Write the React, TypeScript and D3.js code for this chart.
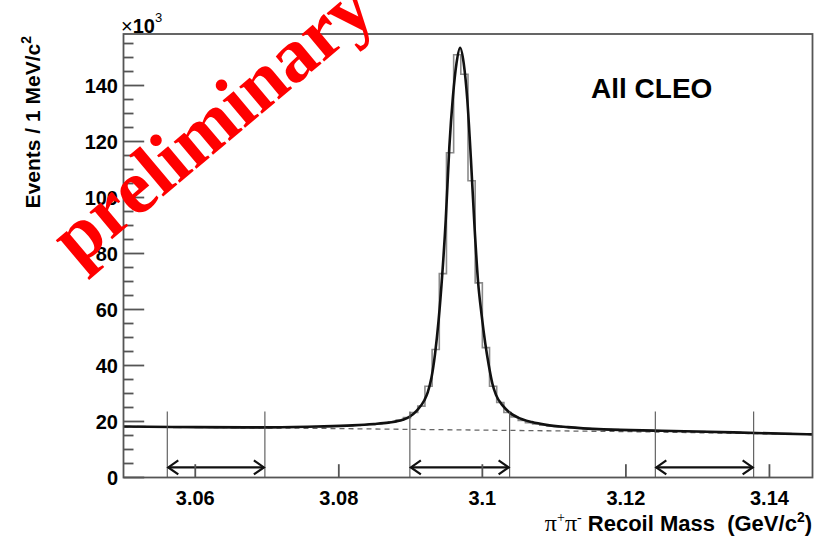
import React from "react";
import * as d3 from "d3";

const W = 815;
const H = 536;
const plotLeft = 123.5;
const plotRight = 812.5;
const plotTop = 34;
const plotBottom = 477.5;

const xDomain = [3.05, 3.146];
const yDomain = [0, 158.4];
const xTicks = [3.06, 3.08, 3.1, 3.12, 3.14];
const xTickLabels = ["3.06", "3.08", "3.1", "3.12", "3.14"];
const yTicks = [0, 20, 40, 60, 80, 100, 120, 140];
const yTickLabels = ["0", "20", "40", "60", "80", "100", "120", "140"];
const yMinorStep = 5;

const binStart = 3.05;
const binWidth = 0.001;
// events per bin, in thousands
const histCounts = [
  18.2, 18.1, 18.2, 18.0, 18.1, 18.0, 18.1, 17.9, 18.0, 18.0,
  17.9, 18.0, 17.9, 17.9, 18.0, 17.8, 17.9, 17.9, 17.8, 17.9,
  17.9, 17.9, 18.0, 17.9, 18.0, 18.0, 18.1, 18.1, 18.2, 18.3,
  18.4, 18.5, 18.6, 18.8, 18.9, 19.2, 19.5, 19.9, 20.5, 21.4,
  23.2, 25.5, 32.6, 45.7, 72.8, 116, 151, 144, 106, 69.5,
  46.4, 32.6, 26.8, 23.2, 21.6, 20.4, 19.6, 19.1, 18.7, 18.4,
  18.2, 18.0, 17.8, 17.6, 17.5, 17.4, 17.3, 17.2, 17.1, 17.0,
  16.9, 16.9, 16.8, 16.8, 16.7, 16.7, 16.6, 16.6, 16.5, 16.4,
  16.4, 16.3, 16.3, 16.2, 16.1, 16.1, 16.0, 16.0, 15.9, 15.8,
  15.8, 15.7, 15.7, 15.6, 15.5, 15.5,
];

const fitMass = [
  3.05, 3.06, 3.07, 3.0769, 3.0819, 3.0849, 3.0869, 3.0889, 3.0899, 3.0909,
  3.0919, 3.0924, 3.0929, 3.0934, 3.0939, 3.0944, 3.0949, 3.0954, 3.0959, 3.0964,
  3.0969, 3.0974, 3.0979, 3.0984, 3.0989, 3.0994, 3.0999, 3.1004, 3.1009, 3.1014,
  3.1019, 3.1029, 3.1039, 3.1049, 3.1069, 3.1089, 3.1119, 3.1169, 3.125, 3.135, 3.146,
];
const fitCounts = [
  18.2, 18.0, 17.9, 18.2, 18.6, 19.1, 19.6, 20.6, 21.8, 24.0,
  27.5, 30.5, 35.5, 44, 56, 72, 92, 118, 136, 148,
  153.5, 148, 135, 114, 90, 70, 58, 48, 40, 33.5,
  29.5, 25.5, 23.0, 21.5, 19.8, 18.8, 18.0, 17.2, 16.7, 16.1, 15.4,
];

const bkgMass = [3.05, 3.075, 3.097, 3.12, 3.146];
const bkgCounts = [18.1, 17.6, 17.0, 16.4, 15.35];

const regions = [
  [3.0561, 3.0697],
  [3.0899, 3.1038],
  [3.1241, 3.1378],
];
const regionLineTop = 23.6;
const arrowLevel = 3.6;

export default function App() {
  const x = d3.scaleLinear().domain(xDomain).range([plotLeft, plotRight]);
  const y = d3.scaleLinear().domain(yDomain).range([plotBottom, plotTop]);

  const histPts: [number, number][] = histCounts.map((c, i) => [binStart + i * binWidth, c]);
  histPts.push([binStart + histCounts.length * binWidth, histCounts[histCounts.length - 1]]);
  const histPath = d3
    .line<[number, number]>()
    .x((d) => x(d[0]))
    .y((d) => y(d[1]))
    .curve(d3.curveStepAfter)(histPts) as string;

  const fitPath = d3
    .line<number>()
    .x((d, i) => x(fitMass[i]))
    .y((d) => y(d))
    .curve(d3.curveMonotoneX)(fitCounts) as string;

  const bkgPath = d3
    .line<number>()
    .x((d, i) => x(bkgMass[i]))
    .y((d) => y(d))(bkgCounts) as string;

  const minorTicks = d3.range(0, yDomain[1], yMinorStep).filter((v) => v % 20 !== 0);

  const majorY = 20.7;
  const minorY = 10;
  const tickX = 13.3;
  const axisColor = "#555";
  const sans = "'Liberation Sans', Arial, Helvetica, sans-serif";
  const serif = "'Liberation Serif', 'Times New Roman', serif";

  const ay = y(arrowLevel);
  const headL = 11;
  const headH = 7;

  return (
    <svg width={W} height={H} style={{ position: "absolute", left: 0, top: 0, background: "#fff" }}>
      <rect x={0} y={0} width={W} height={H} fill="#fff" />
      {/* histogram */}
      <path d={histPath} fill="none" stroke="#8a8a8a" strokeWidth={1.6} />
      {/* background dashed */}
      <path d={bkgPath} fill="none" stroke="#666" strokeWidth={1.3} strokeDasharray="5,4" />
      {/* fit */}
      <path d={fitPath} fill="none" stroke="#111" strokeWidth={2.6} strokeLinejoin="round" />

      {/* region lines and arrows */}
      {regions.map((r, i) => (
        <g key={i}>
          <line x1={x(r[0])} x2={x(r[0])} y1={y(regionLineTop)} y2={plotBottom} stroke="#555" strokeWidth={1.1} />
          <line x1={x(r[1])} x2={x(r[1])} y1={y(regionLineTop)} y2={plotBottom} stroke="#555" strokeWidth={1.1} />
          <line x1={x(r[0]) + 1} x2={x(r[1]) - 1} y1={ay} y2={ay} stroke="#111" strokeWidth={2.2} />
          <path
            d={`M${x(r[0]) + headL},${ay - headH} L${x(r[0]) + 1},${ay} L${x(r[0]) + headL},${ay + headH}`}
            fill="none"
            stroke="#111"
            strokeWidth={2.2}
          />
          <path
            d={`M${x(r[1]) - headL},${ay - headH} L${x(r[1]) - 1},${ay} L${x(r[1]) - headL},${ay + headH}`}
            fill="none"
            stroke="#111"
            strokeWidth={2.2}
          />
        </g>
      ))}

      {/* frame */}
      <rect
        x={plotLeft}
        y={plotTop}
        width={plotRight - plotLeft}
        height={plotBottom - plotTop}
        fill="none"
        stroke={axisColor}
        strokeWidth={1.8}
      />

      {/* y ticks */}
      {yTicks.map((t) => (
        <line key={"ym" + t} x1={plotLeft} x2={plotLeft + majorY} y1={y(t)} y2={y(t)} stroke={axisColor} strokeWidth={1.8} />
      ))}
      {minorTicks.map((t) => (
        <line key={"yn" + t} x1={plotLeft} x2={plotLeft + minorY} y1={y(t)} y2={y(t)} stroke={axisColor} strokeWidth={1.8} />
      ))}
      {yTicks.map((t, i) => (
        <text key={"yl" + t} x={118} y={y(t) + 7.5} textAnchor="end" fontFamily={sans} fontWeight="bold" fontSize={20} fill="#000">
          {yTickLabels[i]}
        </text>
      ))}

      {/* x ticks */}
      {xTicks.map((t, i) => (
        <g key={"x" + t}>
          <line x1={x(t)} x2={x(t)} y1={plotBottom} y2={plotBottom - tickX} stroke={axisColor} strokeWidth={1.8} />
          <text x={x(t)} y={505} textAnchor="middle" fontFamily={sans} fontWeight="bold" fontSize={20} fill="#000">
            {xTickLabels[i]}
          </text>
        </g>
      ))}

      {/* x10^3 */}
      <text x={121} y={33} fontFamily={sans} fontSize={20} fill="#000">
        <tspan fontWeight="normal">×</tspan>
        <tspan fontWeight="bold">10</tspan>
        <tspan fontWeight="normal" fontSize={13} dy={-11}>3</tspan>
      </text>

      {/* y title */}
      <text
        transform="translate(40,36) rotate(-90)"
        textAnchor="end"
        fontFamily={sans}
        fontWeight="bold"
        fontSize={21}
        fill="#000"
      >
        Events / 1 MeV/c<tspan fontSize={14} dy={-9}>2</tspan>
      </text>

      {/* x title */}
      <text
        x={812}
        y={531}
        textAnchor="end"
        fontFamily={sans}
        fontWeight="bold"
        fontSize={22}
        fill="#000"
        style={{ whiteSpace: "pre" }}
      >
        <tspan fontFamily={serif} fontWeight="normal" fontSize={24}>π</tspan>
        <tspan fontFamily={serif} fontWeight="normal" fontSize={14} dy={-9}>+</tspan>
        <tspan fontFamily={serif} fontWeight="normal" fontSize={24} dy={9}>π</tspan>
        <tspan fontFamily={serif} fontWeight="normal" fontSize={14} dy={-9}>-</tspan>
        <tspan dy={9}>{" Recoil Mass  (GeV/c"}</tspan>
        <tspan fontSize={14} dy={-9}>2</tspan>
        <tspan dy={9}>)</tspan>
      </text>

      {/* label */}
      <text x={591} y={98} fontFamily={sans} fontWeight="bold" fontSize={28} fill="#000">
        All CLEO
      </text>

      {/* preliminary */}
      <text
        transform="translate(228,142) rotate(-40)"
        textAnchor="middle"
        fontFamily={serif}
        fontWeight="bold"
        fontSize={77}
        fill="#ff0000"
      >
        preliminary
      </text>
    </svg>
  );
}
